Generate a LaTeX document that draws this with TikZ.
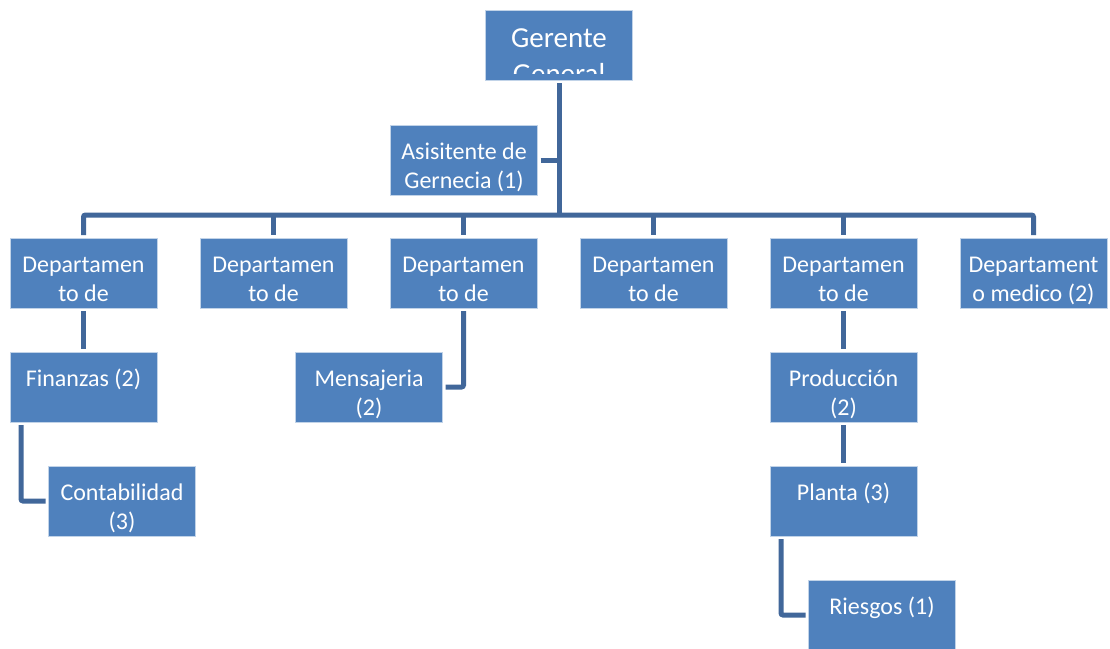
\documentclass[tikz,border=0pt]{standalone}
\usepackage{fontspec}
\setmainfont{Carlito}
\usetikzlibrary{positioning}
\definecolor{boxblue}{HTML}{4F81BD}
\definecolor{lineblue}{HTML}{41679A}
\tikzset{
    org chart/.style={
        x=1pt,y=1pt,
        node distance=44pt and 43pt,
        every node/.style={
            align=center,
        },
    },
    org box/.style={
        rectangle, fill=boxblue, draw=white!65!boxblue, line width=0.8pt,
        minimum width=147pt, minimum height=70pt, inner sep=0pt, outer sep=0pt,
        text=white, font=\fontsize{24}{29}\selectfont,
    },
    org line/.style={
        draw=lineblue, line width=5pt, rounded corners=2pt,
        shorten <=3pt, shorten >=3pt,
    },
}
\newcommand{\boxtext}[2]{\rule{0pt}{33pt}#1\\#2\rule[-6pt]{0pt}{6pt}}

\begin{document}
\begin{tikzpicture}[org chart]
        \useasboundingbox (0,0) rectangle (1110,-648);
        \node[org box, path picture={
            \clip ([yshift=7pt]path picture bounding box.south west) rectangle (path picture bounding box.north east);
            \node[text=white, font=\fontsize{29}{36}\selectfont, align=center]
                at ([yshift=-11pt]path picture bounding box.center) {Gerente\\General};
        }] (gg) at (559,-45) {};
        \node[org box] (asis) at (464,-160) {\boxtext{Asisitente de}{Gernecia (1)}};

        % departamentos
        \node[org box] (d1) at (83.5,-273) {\boxtext{Departamen}{to de}};
        \node[org box, right=of d1] (d2) {\boxtext{Departamen}{to de}};
        \node[org box, right=of d2] (d3) {\boxtext{Departamen}{to de}};
        \node[org box, right=of d3] (d4) {\boxtext{Departamen}{to de}};
        \node[org box, right=of d4] (d5) {\boxtext{Departamen}{to de}};
        \node[org box, right=of d5] (d6) {\boxtext{Departament}{o medico (2)}};

        \node[org box, below=of d1] (fin) {\boxtext{Finanzas (2)}{~}};
        \node[org box, below=of fin, xshift=38.5pt] (cont) {\boxtext{Contabilidad}{(3)}};
        \node[org box, below=of d3, xshift=-94.5pt] (mens) {\boxtext{Mensajeria}{(2)}};
        \node[org box, below=of d5] (prod) {\boxtext{Producción}{(2)}};
        \node[org box, below=of prod] (plan) {\boxtext{Planta (3)}{~}};
        \node[org box, below=of plan, xshift=38.5pt] (ries) {\boxtext{Riesgos (1)}{~}};

        \coordinate (bus) at (559,-215);
        \draw[org line, shorten >=0pt] (gg.south) -- (gg.south |- bus);
        \draw[org line, shorten >=0pt] (asis.east) -- (asis.east -| gg.south);
        \draw[org line] (d1.north) -- (d1.north |- bus) -- (d6.north |- bus) -- (d6.north);
        \foreach \d in {d2,d3,d4,d5}
            \draw[org line, shorten <=0pt] (\d.north |- bus) -- (\d.north);

        \draw[org line] (d1.south) -- (fin.north);
        \draw[org line] ([xshift=11pt]fin.south west) |- (cont.west);
        \draw[org line] (d3.south) |- (mens.east);
        \draw[org line] (d5.south) -- (prod.north);
        \draw[org line] (prod.south) -- (plan.north);
        \draw[org line] ([xshift=11pt]plan.south west) |- (ries.west);
\end{tikzpicture}
\end{document}
